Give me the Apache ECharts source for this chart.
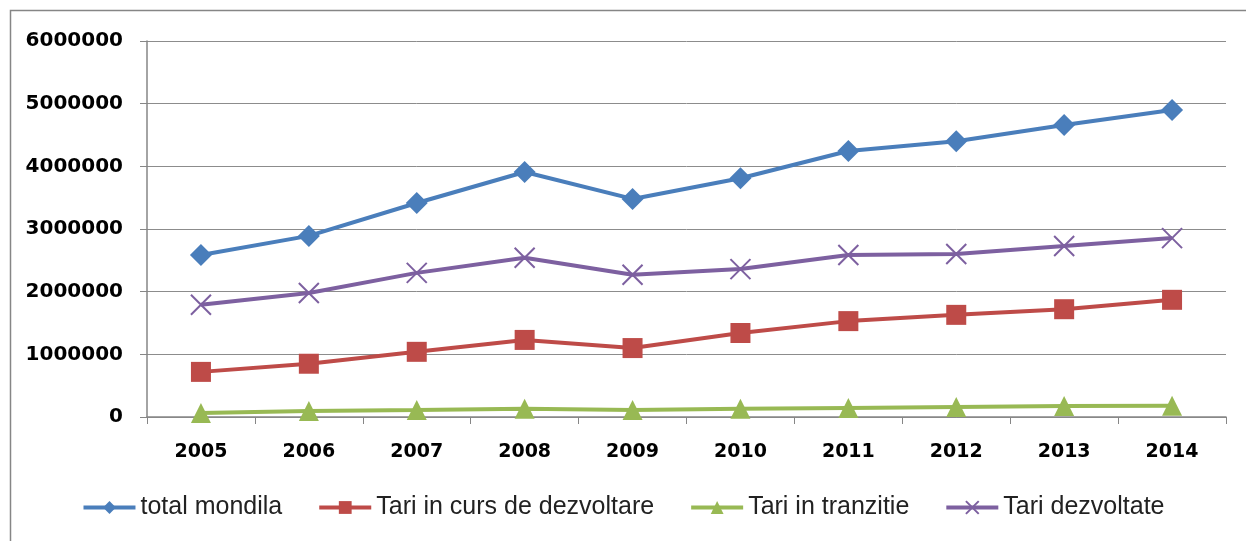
<!DOCTYPE html>
<html>
<head>
<meta charset="utf-8">
<script src="https://cdn.jsdelivr.net/npm/echarts@6/dist/echarts.min.js"></script>
<style>
  html, body { margin: 0; padding: 0; background: #fff; }
  #chart { width: 1246px; height: 541px; }
</style>
</head>
<body>
<div id="chart"></div>
<script>
var years = ['2005', '2006', '2007', '2008', '2009', '2010', '2011', '2012', '2013', '2014'];
var total_mondial = [2585000, 2890000, 3415000, 3910000, 3480000, 3810000, 4245000, 4400000, 4660000, 4900000];
var tari_curs = [720000, 850000, 1040000, 1230000, 1100000, 1340000, 1530000, 1630000, 1720000, 1870000];
var tari_tranzitie = [65000, 95000, 110000, 130000, 110000, 130000, 145000, 160000, 175000, 180000];
var tari_dezvoltate = [1790000, 1980000, 2300000, 2540000, 2270000, 2360000, 2585000, 2600000, 2730000, 2855000];
var series_names = ['total mondila', 'Tari in curs de dezvoltare', 'Tari in tranzitie', 'Tari dezvoltate'];
var series_colors = ['#4a7ebb', '#be4b48', '#98b954', '#7d60a0'];

var chart = echarts.init(document.getElementById('chart'));

function make_line(name, data, color, symbol, size) {
    return {
        name: name,
        type: 'line',
        data: data,
        symbol: symbol,
        symbolSize: size,
        showSymbol: true,
        lineStyle: { color: color, width: 4 },
        itemStyle: { color: color, borderWidth: 0 },
        emphasis: { disabled: true },
        z: 3
    };
}

// cross marker (x) for dezvoltate
var cross_path = 'path://M0,0 L10,10 M10,0 L0,10';

var option = {
    animation: false,
    backgroundColor: '#fff',
    graphic: [{
        type: 'rect',
        shape: { x: 10.5, y: 10.5, width: 1250, height: 540 },
        style: { fill: 'none', stroke: '#868686', lineWidth: 1.5 },
        silent: true
    }],
    grid: { left: 147, right: 20, top: 41, bottom: 124 },
    legend: {
        bottom: 16,
        left: 'center',
        itemWidth: 52,
        itemHeight: 16,
        itemGap: 35,
        lineStyle: { width: 4 },
        textStyle: { fontFamily: 'Liberation Sans, sans-serif', fontSize: 25, color: '#222' },
        data: series_names
    },
    xAxis: {
        type: 'category',
        data: years,
        boundaryGap: true,
        axisLine: { lineStyle: { color: '#868686', width: 1.5 } },
        axisTick: { show: true, length: 7, lineStyle: { color: '#868686' } },
        axisLabel: { fontFamily: 'DejaVu Sans, sans-serif', fontWeight: 'bold', fontSize: 19, color: '#000', margin: 26 }
    },
    yAxis: {
        type: 'value',
        min: 0,
        max: 6000000,
        interval: 1000000,
        axisLine: { show: true, lineStyle: { color: '#868686', width: 1.5 } },
        axisTick: { show: true, length: 7, lineStyle: { color: '#868686' } },
        splitLine: { lineStyle: { color: '#8c8c8c', width: 1 } },
        axisLabel: {
            fontFamily: 'DejaVu Sans, sans-serif', fontWeight: 'bold', fontSize: 20, color: '#000', margin: 24,
            formatter: function (v) { return String(v); }
        }
    },
    series: [
        make_line(series_names[0], total_mondial, series_colors[0], 'diamond', 22),
        make_line(series_names[1], tari_curs, series_colors[1], 'rect', 20),
        make_line(series_names[2], tari_tranzitie, series_colors[2], 'triangle', 20),
        {
            name: series_names[3],
            type: 'line',
            data: tari_dezvoltate,
            symbol: cross_path,
            symbolSize: 20,
            lineStyle: { color: series_colors[3], width: 4 },
            itemStyle: { color: 'none', borderColor: series_colors[3], borderWidth: 2 },
            emphasis: { disabled: true },
            z: 3
        }
    ]
};

chart.setOption(option);
</script>
</body>
</html>
